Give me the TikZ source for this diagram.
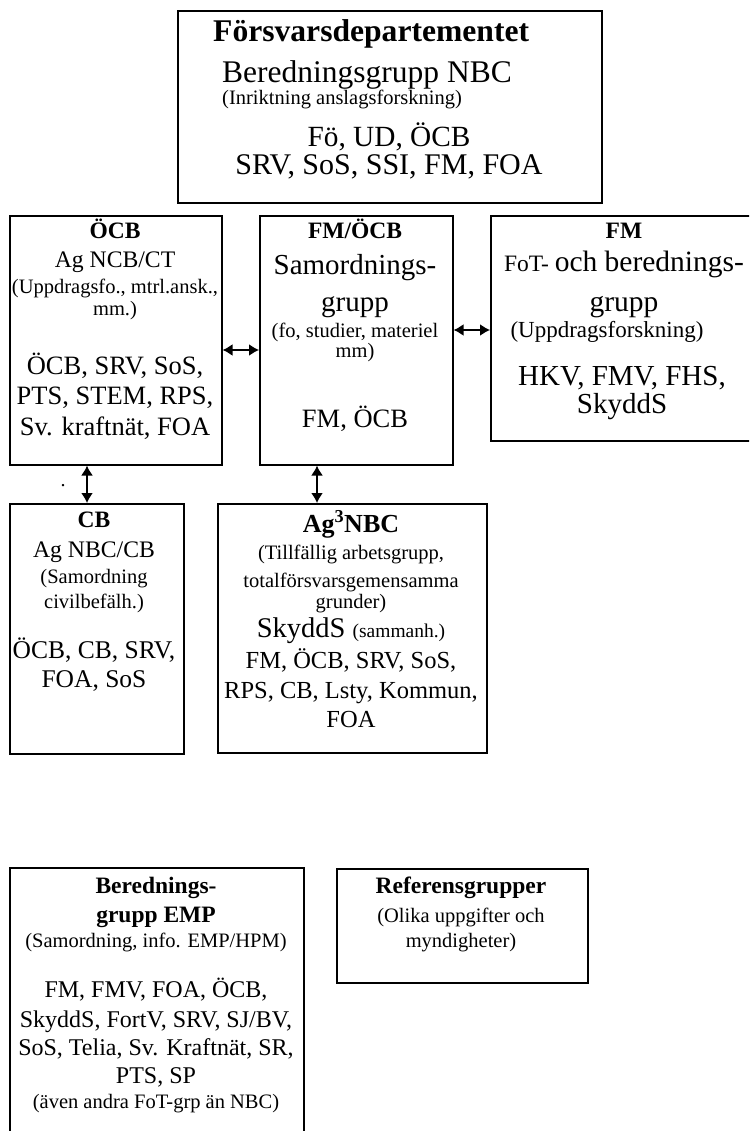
\documentclass[tikz,border=0pt]{standalone}
\usepackage{fontspec}
\setmainfont{Liberation Serif}
\usetikzlibrary{arrows.meta}
\tikzstyle{orgbox}=[draw,line width=1.6pt,inner sep=0pt,anchor=north west]
\tikzstyle{txtline}=[anchor=base,inner sep=0pt]
\tikzstyle{biarrow}=[draw,line width=1.6pt,{Latex[length=10pt,width=12pt]}-{Latex[length=10pt,width=12pt]}]
\newcommand{\txtsize}[1]{\fontsize{#1}{#1}\selectfont}
\newcommand{\headfont}{\bfseries\fontsize{23.5}{23.5}\selectfont}

\begin{document}
\begin{tikzpicture}[x=1pt,y=-1pt]
\useasboundingbox (0,0) rectangle (749,1131);
\clip (0,0) rectangle (749,1131);

% boxes
\foreach \pos/\w/\h/\name in {{(177,10)/424/192/fodep}, {(9,215)/212/249/ocb}, {(259,215)/193/249/fmocb},
        {(490,215)/268/225/fm}, {(9,503)/174/250/cb}, {(217,503)/269/249/agnbc},
        {(9,867)/294/290/emp}, {(336,868)/251/114/ref}}
    \node[orgbox,minimum width=\w pt,minimum height=\h pt] (\name) at \pos {};

% connections
\draw[biarrow] (ocb.east |- 0,350) -- (fmocb.west |- 0,350);
\draw[biarrow] (fmocb.east |- 0,330) -- (fm.west |- 0,330);
\draw[biarrow] (ocb.south -| 87,0) -- (cb.north -| 87,0);
\draw[biarrow] (fmocb.south -| 317,0) -- (agnbc.north -| 317,0);
\node[txtline] (dot) at (63,486) {\txtsize{20}.};

% texts
\foreach \pos/\anc/\txt [count=\i] in {{(213,42)/base west/{\bfseries\txtsize{31.6}Försvarsdepartementet}},
        {(222,83)/base west/{\txtsize{31.5}Beredningsgrupp NBC}},
        {(222,105)/base west/{\txtsize{20.5}(Inriktning anslagsforskning)}},
        {(389,147)/base/{\txtsize{29.3}Fö, UD, ÖCB}},
        {(389,175)/base/{\txtsize{30}SRV, SoS, SSI, FM, FOA}}}
    \node[txtline,anchor=\anc] (fodep-\i) at \pos {\txt};

\foreach \y/\txt [count=\i] in {239/{\headfont ÖCB}, 268/{\txtsize{23.7}Ag NCB/CT},
        294/{\txtsize{20.5}(Uppdragsfo., mtrl.ansk.,}, 315/{\txtsize{20.5}mm.)},
        374/{\txtsize{26.5}ÖCB, SRV, SoS,}, 404/{\txtsize{26.5}PTS, STEM, RPS,},
        435/{\txtsize{26.5}Sv. kraftnät, FOA}}
    \node[txtline] (ocb-\i) at (115,\y) {\txt};

\foreach \y/\txt [count=\i] in {239/{\headfont FM/ÖCB}, 275/{\txtsize{29}Samordnings-},
        312/{\txtsize{29}grupp}, 337/{\txtsize{20.5}(fo, studier, materiel},
        357/{\txtsize{20.5}mm)}, 427/{\txtsize{26.5}FM, ÖCB}}
    \node[txtline] (fmocb-\i) at (355,\y) {\txt};

\foreach \x/\y/\txt [count=\i] in {624/239/{\headfont FM},
        624/272/{\txtsize{23.5}FoT- \txtsize{29.5}och berednings-},
        624/312/{\txtsize{29.5}grupp}, 607/337/{\txtsize{23}(Uppdragsforskning)},
        622/385/{\txtsize{29}HKV, FMV, FHS,}, 622/413/{\txtsize{29}SkyddS}}
    \node[txtline] (fm-\i) at (\x,\y) {\txt};

\foreach \y/\txt [count=\i] in {527/{\headfont CB}, 557/{\txtsize{23.7}Ag NBC/CB},
        583/{\txtsize{20.5}(Samordning}, 608/{\txtsize{20.5}civilbefälh.)},
        658/{\txtsize{25.5}ÖCB, CB, SRV,}, 687/{\txtsize{25.5}FOA, SoS}}
    \node[txtline] (cb-\i) at (94,\y) {\txt};

\foreach \y/\txt [count=\i] in {532/{\bfseries\txtsize{26}Ag\textsuperscript{3}NBC},
        559/{\txtsize{20.5}(Tillfällig arbetsgrupp,}, 587/{\txtsize{20.5}totalförsvarsgemensamma},
        608/{\txtsize{20.5}grunder)}, 637/{\txtsize{28.5}SkyddS \txtsize{19.5}(sammanh.)},
        668/{\txtsize{24.5}FM, ÖCB, SRV, SoS,}, 698/{\txtsize{24.5}RPS, CB, Lsty, Kommun,},
        727/{\txtsize{24.5}FOA}}
    \node[txtline] (agnbc-\i) at (351,\y) {\txt};

\foreach \y/\txt [count=\i] in {893/{\headfont Berednings-}, 922/{\headfont grupp EMP},
        947/{\txtsize{20.5}(Samordning, info. EMP/HPM)},
        997/{\txtsize{24}FM, FMV, FOA, ÖCB,}, 1027/{\txtsize{24}SkyddS, FortV, SRV, SJ/BV,},
        1055/{\txtsize{24}SoS, Telia, Sv. Kraftnät, SR,}, 1083/{\txtsize{24}PTS, SP},
        1108/{\txtsize{20.5}(även andra FoT-grp än NBC)}}
    \node[txtline] (emp-\i) at (156,\y) {\txt};

\foreach \y/\txt [count=\i] in {893/{\headfont Referensgrupper},
        922/{\txtsize{20.5}(Olika uppgifter och}, 947/{\txtsize{20.5}myndigheter)}}
    \node[txtline] (ref-\i) at (461,\y) {\txt};

\end{tikzpicture}
\end{document}
